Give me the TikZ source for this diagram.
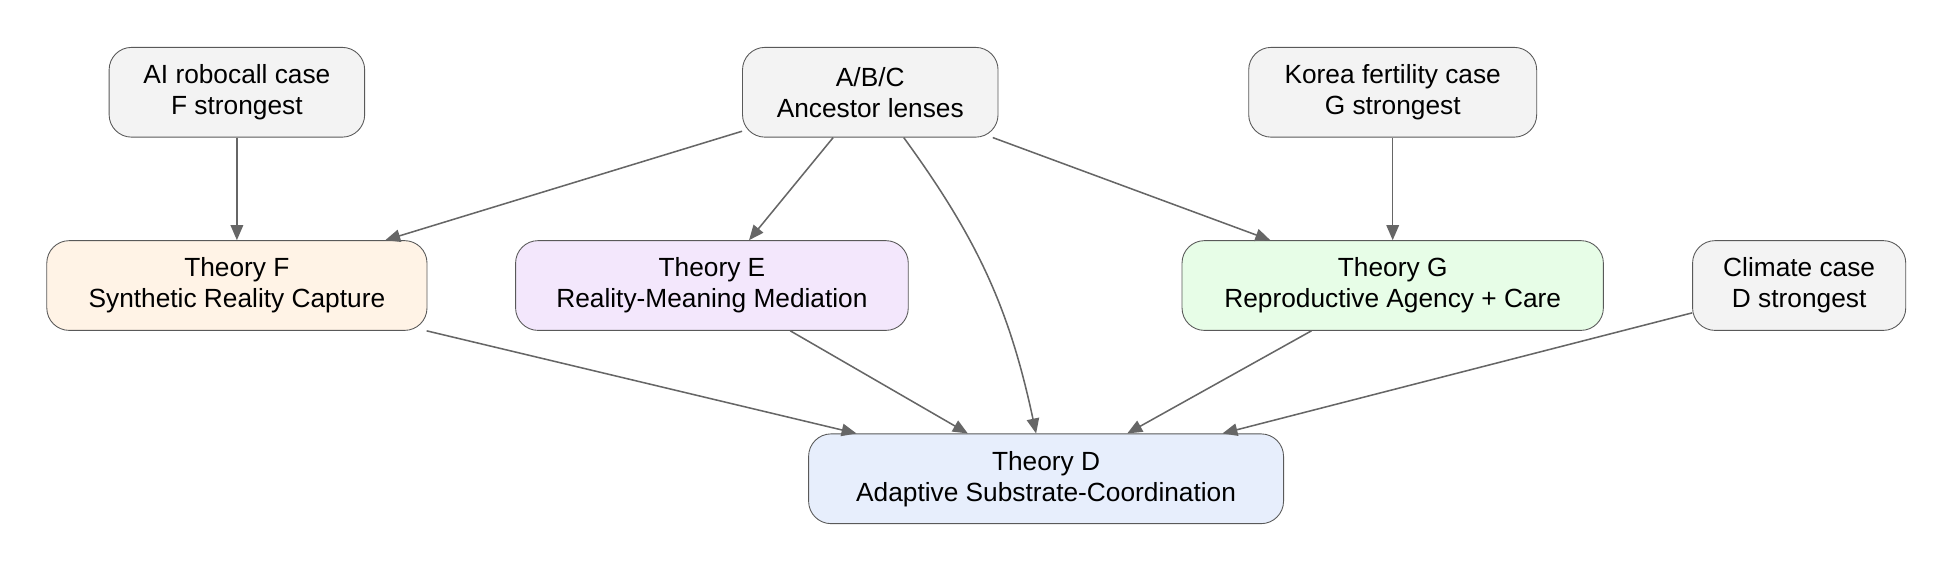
\documentclass[tikz,border=0pt]{standalone}
\usepackage{fontspec}
\setmainfont{Liberation Sans}
\definecolor{casegray}{HTML}{F3F3F3}
\definecolor{fillF}{HTML}{FFF3E6}
\definecolor{fillE}{HTML}{F3E7FC}
\definecolor{fillG}{HTML}{E7FDE7}
\definecolor{fillD}{HTML}{E7EEFC}
\definecolor{edgegray}{HTML}{666666}
\usetikzlibrary{arrows.meta}
\tikzset{
  box/.style={draw=black!65, rounded corners=0.36cm, align=center,
    minimum height=1.44cm, inner sep=2pt, font=\fontsize{12}{14.2}\selectfont},
  link/.style={-{Triangle[length=0.24cm,width=0.2cm]}, edgegray, line width=0.7pt}
}
\begin{document}
\begin{tikzpicture}[x=0.02cm,y=-0.02cm]
        \useasboundingbox (0,0) rectangle (1568,459);

        % Casos y linajes
        \node[box, fill=casegray, minimum width=4.1cm] (robo) at (190,74) {AI robocall case\\F strongest};
        \node[box, fill=casegray, minimum width=4.1cm] (abc) at (698,74) {A/B/C\\Ancestor lenses};
        \node[box, fill=casegray, minimum width=4.62cm] (korea) at (1117,74) {Korea fertility case\\G strongest};

        % Teorías
        \node[box, fill=fillF, minimum width=6.1cm] (thF) at (190,229) {Theory F\\Synthetic Reality Capture};
        \node[box, fill=fillE, minimum width=6.3cm] (thE) at (571,229) {Theory E\\Reality-Meaning Mediation};
        \node[box, fill=fillG, minimum width=6.76cm] (thG) at (1117,229) {Theory G\\Reproductive Agency + Care};
        \node[box, fill=casegray, minimum width=3.42cm] (climate) at (1443,229) {Climate case\\D strongest};
        \node[box, fill=fillD, minimum width=7.62cm] (thD) at (839,384) {Theory D\\Adaptive Substrate-Coordination};

        % Flechas
        \draw[link] (robo) -- (thF);
        \draw[link] (korea) -- (thG);
        \draw[link] (abc) -- (thF);
        \draw[link] (abc) -- (thE);
        \draw[link] (abc) -- (thG);
        \draw[link] (abc) to[bend left=12] (thD);
        \draw[link] (thF) -- (thD);
        \draw[link] (thE) -- (thD);
        \draw[link] (thG) -- (thD);
        \draw[link] (climate) -- (thD);
    \end{tikzpicture}
\end{document}
